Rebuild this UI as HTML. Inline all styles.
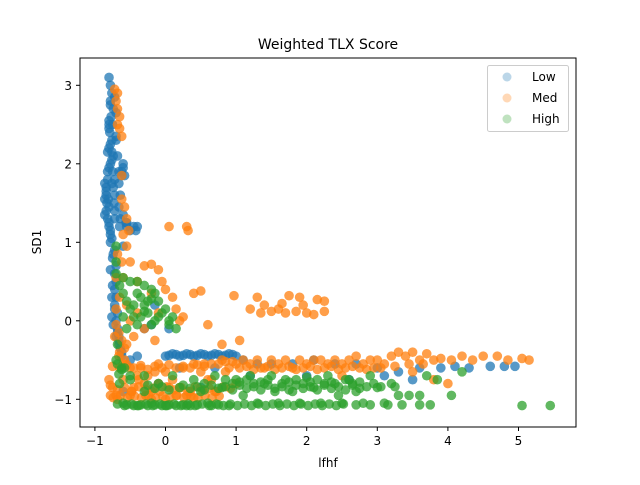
<!DOCTYPE html>
<html><head><meta charset="utf-8"><style>
body{margin:0;background:#fff;}
svg text{font-family:"DejaVu Sans","Liberation Sans",sans-serif;}
</style></head><body>
<svg width="640" height="480" viewBox="0 0 640 480" xmlns="http://www.w3.org/2000/svg">
<rect width="640" height="480" fill="#fff"/>
<g id="marks"></g>
<rect x="80" y="58" width="496" height="369" fill="none" stroke="#000" stroke-width="1"/>
<g id="axes"></g>
<text x="328" y="49" font-size="14" text-anchor="middle">Weighted TLX Score</text>
<text x="328" y="467" font-size="12" text-anchor="middle">lfhf</text>
<text x="41" y="242" font-size="12" text-anchor="middle" transform="rotate(-90 41 242)">SD1</text>
<g>
<rect x="487.5" y="65.5" width="81" height="66" rx="2" fill="#fff" fill-opacity="0.8" stroke="#ccc"/>
<circle cx="507" cy="77" r="4.5" fill="#1f77b4" fill-opacity="0.3"/>
<text x="532" y="81" font-size="12">Low</text>
<circle cx="507" cy="98" r="4.5" fill="#ff7f0e" fill-opacity="0.3"/>
<text x="532" y="102" font-size="12">Med</text>
<circle cx="507" cy="119" r="4.5" fill="#2ca02c" fill-opacity="0.3"/>
<text x="532" y="123" font-size="12">High</text>
</g>
</svg>
<script>
const xTicks=[-1,0,1,2,3,4,5];
const yTicks=[-1,0,1,2,3];
const xLow=[-0.80,-0.78,-0.76,-0.78,-0.74,-0.77,-0.75,-0.79,-0.76,-0.80,-0.74,-0.78,-0.82,-0.75,-0.82,-0.72,-0.84,-0.74,-0.84,-0.72,-0.83,-0.73,-0.84,-0.72,-0.82,-0.72,-0.80,-0.65,-0.55,-0.45,-0.78,-0.78,-0.72,-0.75,-0.70,-0.72,-0.70,-0.72,-0.70,-0.72,-0.68,-0.70,-0.68,-0.66,-0.66,-0.62,-0.60,-0.62,-0.60,-0.20,-0.30,0.05,-0.76,-0.80,-0.78,-0.81,
-0.72,-0.70,-0.80,-0.70,-0.86,-0.86,-0.86,-0.80,-0.78,-0.76,-0.68,-0.66,-0.64,-0.62,-0.60,-0.58,-0.50,-0.40,-0.42,-0.55,-0.82,-0.80,-0.78,-0.76,-0.74,-0.78,-0.75,-0.84,-0.80,-0.76,-0.80,-0.76,
-0.66,-0.64,-0.66,-0.64,-0.66,-0.68,-0.70,-0.62,-0.60,-0.56,-0.76,-0.72,-0.74,-0.70,
0.0,0.1,0.2,0.3,0.4,0.5,0.6,0.7,0.8,0.9,1.0,1.1,1.3,1.5,1.8,2.1,2.4,2.7,3.0,3.3,3.6,3.9,4.1,4.3,4.6,4.8,4.95,3.1,3.5,2.6,-0.4,-0.5,0.2,0.7,1.2,2.0,-0.1,0.5,-0.6,-0.15,0.05,0.15,0.25,0.35,0.45,0.55,0.65,0.75,0.85,0.95];
const yLow=[3.1,3.0,2.9,2.8,2.7,2.6,2.5,2.4,2.3,2.2,2.1,2.0,1.9,1.9,1.8,1.8,1.7,1.7,1.6,1.6,1.5,1.5,1.4,1.4,1.3,1.3,1.2,1.2,1.2,1.2,1.1,1.0,0.9,0.8,0.7,0.6,0.5,0.4,0.3,0.2,0.1,0.0,-0.1,-0.2,-0.3,-0.4,2.0,1.9,0.95,-0.05,-0.1,-0.1,2.05,2.5,2.75,1.55,
2.85,2.65,2.55,2.35,1.75,1.55,1.35,1.25,1.15,0.05,-0.15,-0.25,-0.35,-0.45,1.95,1.85,1.15,1.2,1.15,1.25,2.15,2.45,2.25,1.05,0.85,0.65,0.45,1.65,1.45,1.75,1.95,2.15,
1.75,1.6,1.45,1.3,1.9,2.1,2.3,1.85,1.35,1.25,0.3,0.15,-0.05,-0.2,
-0.45,-0.42,-0.45,-0.42,-0.45,-0.42,-0.45,-0.42,-0.45,-0.42,-0.45,-0.5,-0.55,-0.55,-0.55,-0.5,-0.55,-0.55,-0.6,-0.65,-0.6,-0.6,-0.58,-0.6,-0.58,-0.58,-0.58,-0.7,-0.75,-0.75,-0.45,-0.5,-0.6,-0.6,-0.7,-0.7,-0.8,-0.85,-0.9,0.2,-0.44,-0.43,-0.44,-0.43,-0.44,-0.43,-0.44,-0.43,-0.44,-0.43];
const xMed=[-0.72,-0.68,-0.70,-0.68,-0.65,-0.68,-0.65,-0.62,-0.62,-0.62,-0.58,-0.55,-0.52,-0.60,-0.55,-0.68,-0.62,-0.50,-0.70,-0.60,-0.30,-0.20,-0.10,-0.05,0.0,-0.40,-0.65,-0.55,-0.40,-0.20,0.10,0.50,0.40,0.05,0.30,0.32,0.97,1.30,1.65,1.75,1.90,2.15,2.25,1.20,1.35,1.50,1.60,1.70,1.85,2.00,2.10,2.25,1.40,1.95,0.60,1.05,0.80,-0.10,0.20,
-0.80,-0.75,-0.70,-0.60,-0.50,-0.40,-0.30,-0.20,-0.10,0.0,0.10,0.20,0.30,0.40,0.50,0.60,0.70,0.80,0.90,1.00,1.10,1.20,1.30,1.40,1.50,1.60,1.70,1.80,1.90,2.00,2.10,2.20,2.30,2.40,2.50,2.60,2.70,2.80,2.90,3.00,3.10,3.20,3.30,3.40,3.50,3.60,3.70,3.80,3.90,4.05,4.20,4.35,4.50,4.70,4.85,5.05,5.15,1.00,2.50,3.50,3.80,4.00,-0.50,-0.20,0.40,-0.60,-0.45,-0.10,0.15,-0.72,-0.65,-0.55,-0.35,-0.25,0.05,0.25,0.55,0.85,-0.78,-0.68,-0.58,-0.48,-0.38,-0.28,-0.15,0.0,0.35,0.65,
-0.75,-0.65,-0.55,-0.45,-0.35,-0.25,-0.15,-0.05,0.05,0.15,0.25,0.35,0.45,0.55,0.65,0.75,0.85,0.95,
-0.78,-0.68,-0.58,-0.48,-0.38,-0.28,-0.18,-0.08,0.02,0.12,0.22,0.32,0.42,0.52,0.62,0.72,0.82,0.92,
-0.74,-0.64,-0.54,-0.44,-0.34,-0.24,-0.14,-0.04,0.06,0.16,0.26,0.36,0.46,0.56,0.66,0.76,
1.05,1.15,1.25,1.35,1.45,1.55,1.65,1.75,1.85,1.95,2.05,2.15,2.25,2.35,2.45,2.55,2.65,2.75,2.85,2.95,3.05,3.25,3.45,3.65,
-0.70,-0.66,-0.62,-0.58,-0.70,-0.66,-0.50,-0.45,-0.30,-0.15,0.15,0.25];
const yMed=[2.95,2.9,2.8,2.7,2.6,2.5,2.45,2.35,1.85,1.55,1.45,1.3,1.15,1.1,0.95,0.85,0.75,0.75,0.55,0.55,0.7,0.72,0.65,0.5,0.4,0.5,0.3,0.2,0.1,0.35,0.3,0.38,0.35,1.2,1.2,1.15,0.32,0.3,0.22,0.32,0.3,0.27,0.25,0.15,0.1,0.12,0.15,0.1,0.12,0.1,0.08,0.12,0.2,0.2,-0.05,-0.25,-0.3,0.1,0.0,
-0.75,-0.85,-0.95,-0.55,-0.6,-0.7,-0.8,-0.9,-0.55,-0.65,-0.75,-0.85,-0.95,-0.55,-0.65,-0.75,-0.9,-0.5,-0.6,-0.8,-0.5,-0.55,-0.5,-0.6,-0.5,-0.55,-0.5,-0.6,-0.5,-0.55,-0.5,-0.5,-0.55,-0.5,-0.55,-0.5,-0.45,-0.55,-0.5,-0.5,-0.55,-0.45,-0.4,-0.45,-0.4,-0.5,-0.42,-0.5,-0.48,-0.5,-0.45,-0.5,-0.45,-0.45,-0.5,-0.48,-0.5,-0.55,-0.7,-0.65,-0.75,-0.8,-0.95,-1.0,-0.98,-0.75,-0.85,-0.8,-0.95,-0.2,-0.4,-0.3,-0.6,-0.7,-0.85,-0.6,-0.55,-0.65,-0.95,-1.0,-0.5,-0.9,-0.75,-0.95,-0.65,-1.0,-0.9,-0.75,
-0.58,-0.6,-0.56,-0.6,-0.57,-0.62,-0.58,-0.6,-0.56,-0.6,-0.58,-0.6,-0.56,-0.58,-0.55,-0.55,-0.52,-0.52,
-0.82,-0.88,-0.85,-0.9,-0.84,-0.88,-0.86,-0.9,-0.84,-0.88,-0.85,-0.9,-0.84,-0.88,-0.86,-0.9,-0.84,-0.86,
-0.98,-0.95,-0.98,-0.96,-0.98,-0.95,-0.98,-0.96,-0.98,-0.95,-0.98,-0.96,-0.98,-0.95,-0.98,-0.96,
-0.6,-0.58,-0.62,-0.6,-0.58,-0.62,-0.6,-0.58,-0.62,-0.6,-0.58,-0.62,-0.6,-0.58,-0.62,-0.6,-0.58,-0.6,-0.62,-0.6,-0.6,-0.58,-0.55,-0.55,
-0.05,-0.15,-0.25,-0.35,0.15,-0.45,0.0,-0.2,-0.1,-0.25,0.15,0.05];
const xHigh=[-0.70,-0.65,-0.60,-0.55,-0.50,-0.45,-0.40,-0.35,-0.30,-0.25,-0.20,-0.15,-0.10,0.0,0.05,-0.30,-0.60,-0.40,-0.55,-0.20,0.15,-0.70,-0.68,-0.62,-0.70,-0.70,
-0.65,-0.60,-0.50,-0.40,-0.30,-0.20,-0.10,0.0,0.10,0.20,0.30,0.40,0.50,0.60,0.70,0.80,0.90,1.00,1.10,1.20,1.30,1.40,1.50,1.60,1.70,1.80,1.90,2.00,2.10,2.20,2.30,2.40,2.50,2.60,2.70,2.80,2.90,3.00,3.10,3.20,3.30,3.45,3.60,3.70,3.85,4.05,4.20,5.05,5.45,3.60,3.75,-0.30,0.55,1.55,2.45,
-0.55,-0.45,-0.35,-0.25,-0.15,-0.05,0.05,0.15,0.25,0.35,0.45,0.65,0.75,0.85,0.95,1.05,1.15,1.25,1.35,1.45,1.65,1.75,1.85,1.95,2.05,2.15,2.25,2.35,2.55,2.65,2.75,2.95,
-0.68,-0.58,-0.48,-0.38,-0.28,-0.18,-0.08,0.02,0.12,0.22,0.32,0.42,0.52,0.62,0.72,0.82,0.92,1.02,1.12,1.22,1.32,1.42,1.52,1.62,1.72,1.82,1.92,2.02,2.12,2.22,2.32,2.42,2.52,2.7,2.9,3.15,3.35,
-0.25,-0.15,-0.05,0.05,0.25,0.35,0.45,0.55,0.65,0.75,0.85,0.95,1.05,1.15,1.25,1.35,1.45,1.55,1.65,1.75,1.85,1.95,2.05,2.15,2.25,2.35,2.45,2.55,2.65,2.75,2.85,3.05,3.25,
-0.68,-0.62,-0.66,-0.58,-0.5,-0.35,-0.25,-0.15,-0.05,0.05,-0.45,-0.3,-0.2,-0.1,-0.5,-0.6,0.1,-0.4];
const yHigh=[0.6,0.45,0.35,0.25,0.15,0.05,-0.05,0.3,0.2,0.1,0.4,0.0,0.25,0.15,-0.05,0.45,0.05,0.35,-0.1,-0.05,-0.1,-0.5,-0.3,-0.6,0.75,0.95,
-0.8,-1.05,-0.75,-1.08,-0.7,-1.05,-0.8,-1.08,-0.7,-0.85,-1.08,-0.75,-0.9,-1.05,-0.7,-0.85,-1.08,-0.75,-0.95,-0.7,-1.05,-0.8,-0.7,-1.05,-0.75,-0.9,-1.05,-0.72,-0.85,-1.05,-0.7,-0.8,-1.05,-0.75,-0.9,-1.05,-0.7,-0.85,-1.05,-0.8,-0.95,-0.95,-0.95,-0.7,-0.75,-0.95,-0.65,-1.08,-1.08,-1.07,-1.07,-0.9,-0.8,-0.9,-0.95,
-1.07,-1.08,-1.07,-1.08,-1.07,-1.08,-1.07,-1.08,-1.07,-1.08,-1.07,-1.08,-1.07,-0.75,-0.8,-0.78,-0.75,-0.8,-0.78,-0.75,-0.8,-0.78,-0.75,-0.8,-0.78,-0.75,-0.8,-0.78,-0.75,-0.8,-0.78,-0.8,
-1.06,-1.08,-1.06,-1.08,-1.06,-1.08,-1.06,-1.08,-1.06,-1.08,-1.06,-1.08,-1.06,-1.08,-1.06,-1.08,-1.06,-1.08,-1.06,-1.08,-1.06,-1.08,-1.06,-1.08,-1.06,-1.08,-1.06,-1.08,-1.06,-1.08,-1.06,-1.08,-1.06,-1.07,-1.07,-1.07,-1.07,
-0.82,-0.86,-0.84,-0.88,-0.82,-0.86,-0.84,-0.88,-0.82,-0.86,-0.84,-0.88,-0.82,-0.86,-0.84,-0.88,-0.82,-0.86,-0.84,-0.88,-0.82,-0.86,-0.84,-0.88,-0.82,-0.86,-0.84,-0.88,-0.82,-0.86,-0.84,-0.84,-0.84,
-0.55,-0.62,-0.68,-0.6,-0.7,0.05,0.25,0.35,0.1,0.0,0.2,0.12,0.28,0.05,0.5,0.55,0.05,0.5];
const NS="http://www.w3.org/2000/svg";
function sx(v){return 165.5+v*70.6;}
function sy(v){return 320.8-v*78.5;}
const axes=document.getElementById('axes');
xTicks.forEach(t=>{
  const l=document.createElementNS(NS,'line');
  l.setAttribute('x1',sx(t));l.setAttribute('x2',sx(t));l.setAttribute('y1',427);l.setAttribute('y2',431);l.setAttribute('stroke','#000');
  
  
  axes.appendChild(l);
  const tx=document.createElementNS(NS,'text');
  tx.setAttribute('x',sx(t));tx.setAttribute('y',445);tx.setAttribute('font-size','12');tx.setAttribute('text-anchor','middle');
  tx.textContent=t<0?'\u2212'+(-t):String(t);
  
  
  axes.appendChild(tx);
});
yTicks.forEach(t=>{
  const l=document.createElementNS(NS,'line');
  l.setAttribute('x1',76);l.setAttribute('x2',80);l.setAttribute('y1',sy(t));l.setAttribute('y2',sy(t));l.setAttribute('stroke','#000');
  
  
  axes.appendChild(l);
  const tx=document.createElementNS(NS,'text');
  tx.setAttribute('x',72);tx.setAttribute('y',sy(t)+4.5);tx.setAttribute('font-size','12');tx.setAttribute('text-anchor','end');
  tx.textContent=t<0?'\u2212'+(-t):String(t);
  
  
  axes.appendChild(tx);
});
const marks=document.getElementById('marks');
function draw(xs,ys,color,name){
  const g=document.createElementNS(NS,'g');
  
  
  const n=Math.min(xs.length,ys.length);
  for(let i=0;i<n;i++){
    const c=document.createElementNS(NS,'circle');
    c.setAttribute('cx',sx(xs[i]));c.setAttribute('cy',sy(ys[i]));c.setAttribute('r',4.8);
    c.setAttribute('fill',color);c.setAttribute('fill-opacity','0.75');
    
    
    g.appendChild(c);
  }
  marks.appendChild(g);
}
draw(xLow,yLow,'#1f77b4','series-low');
draw(xMed,yMed,'#ff7f0e','series-med');
draw(xHigh,yHigh,'#2ca02c','series-high');
</script>
</body></html>
